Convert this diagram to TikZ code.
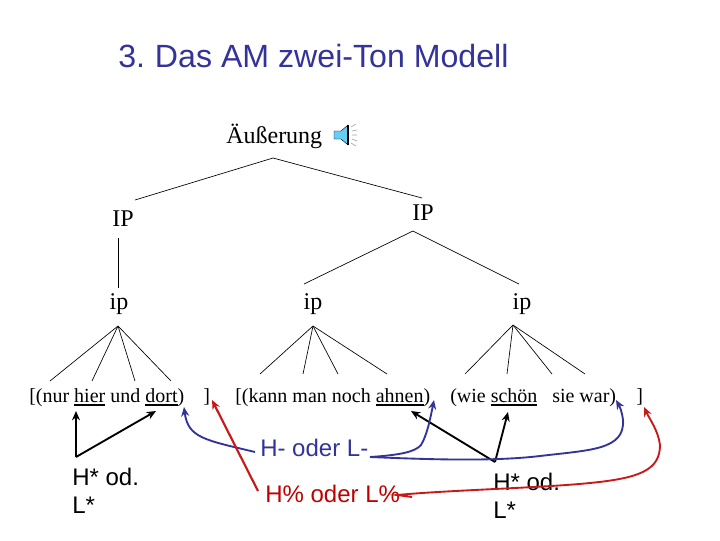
\documentclass[tikz,border=0pt]{standalone}
\usepackage{fontspec}
\setmainfont{Liberation Serif}
\setsansfont{Liberation Sans}
\usetikzlibrary{arrows.meta}
\definecolor{tblue}{HTML}{333399}
\definecolor{tred}{HTML}{C00000}
\definecolor{ared}{HTML}{C81818}
\newcommand\ulw[1]{\setbox0\hbox{#1}\rlap{\rule[-2.8pt]{\wd0}{1.6pt}}\box0\relax}
\tikzset{
  tree/.style={draw=black,line width=0.5pt},
  lab/.style={inner sep=0pt,anchor=center,font=\fontsize{18pt}{20pt}\selectfont},
  leaf/.style={inner sep=0pt,anchor=base west,font=\fontsize{15pt}{16pt}\selectfont},
  sans/.style={inner sep=0pt,anchor=base west,font=\sffamily\fontsize{18pt}{20pt}\selectfont},
  blk/.style={line width=1.4pt,-{Stealth[length=7pt,width=6pt]}},
  blu/.style={tblue,line width=1.4pt,-{Stealth[length=7pt,width=6pt]}},
  rd/.style={ared,line width=1.4pt,-{Stealth[length=7pt,width=6pt]}},
}
\begin{document}
\begin{tikzpicture}[x=0.75pt,y=-0.75pt]
\useasboundingbox (0,0) rectangle (720,540);
\fill[white] (0,0) rectangle (720,540);
\node[sans,anchor=base west,text=tblue,font=\sffamily\fontsize{24.1pt}{26pt}\selectfont] (title) at (118,67) {3.\kern-1.5pt{} Das AM zwei-Ton Modell};
\node[lab,anchor=base west] (root) at (226,143) {Äußerung};
% speaker
\fill[cyan!60!white,draw=black,line width=0.3pt] (334,131) -- (341,131) -- (348,125) -- (348,145) -- (341,139) -- (334,139) -- cycle;
\draw[black,line width=1pt] (348,125) -- (348,145);
\draw[gray!70,line width=0.5pt] (351,127) -- (356,124) (352,131) -- (357,130) (352,135) -- (357,135) (352,139) -- (357,141) (351,143) -- (356,146);

\coordinate (a0) at (273,158);
\coordinate (al) at (135,200);
\coordinate (ar) at (422,198);
\draw[tree] (al) -- (a0) -- (ar);
\node[lab] (ipL) at (123,219) {IP};
\node[lab] (ipR) at (423,213) {IP};
\coordinate (b0) at (118,238); \coordinate (b1) at (118,288);
\draw[tree] (b0) -- (b1);
\coordinate (c0) at (413,231);
\coordinate (c1) at (304,284);
\coordinate (c2) at (519,284);
\draw[tree] (c1) -- (c0) -- (c2);
\node[lab] (p1) at (119,304) {ip};
\node[lab] (p2) at (313,304) {ip};
\node[lab] (p3) at (522,304) {ip};

\coordinate (d0) at (118,326);
\foreach \x in {50,92,135,171} \draw[tree] (d0) -- (\x,381);
\coordinate (e0) at (313,326);
\foreach \x in {260,303,338,387} \draw[tree] (e0) -- (\x,374);
\coordinate (f0) at (513,325);
\foreach \x in {465,507,552,585} \draw[tree] (f0) -- (\x,374);

\node[leaf] (t1) at (29,402) {[(nur \ulw{hier} und \ulw{dort})};
\node[leaf] (t2) at (203,402) {]};
\node[leaf] (t3) at (235,402) {[(kann man noch \ulw{ahnen})};
\node[leaf] (t4) at (450,402) {(wie \ulw{schön}};
\node[leaf] (t5) at (552,402) {sie war)};
\node[leaf] (t6) at (636,402) {]};

\node[sans,text=tblue] (hl) at (260,456) {H- oder L-};
\node[sans,text=tred] (hp) at (265,502) {H\% oder L\%};
\node[sans] (h1) at (72,485) {H* od.};
\node[sans] (l1) at (72,513) {L*};
\node[sans] (h2) at (493,490) {H* od.};
\node[sans] (l2) at (493,518) {L*};

\coordinate (k1) at (76,457);
\draw[blk,line width=0.9pt] (k1) -- (76,411);
\draw[blk] (k1) -- (156,411);
\coordinate (k2) at (495,462);
\draw[blk] (k2) -- (411,411);
\draw[blk] (k2) -- (508,412);

\draw[blu] (255,452) .. controls (205,440) and (188,438) .. (184,407);
\draw[blu] (370,457) .. controls (400,455) and (415,452) .. (421,445) .. controls (427,435) and (430,420) .. (434,400);
\draw[blu] (370,457) .. controls (420,459) and (490,462) .. (540,456) .. controls (590,450) and (625,450) .. (623,420) .. controls (622,412) and (620,407) .. (616,400);
\draw[rd,line width=1.6pt] (258,491) -- (212,400);
\draw[rd] (412,497) -- (397,495) .. controls (450,490) and (540,488) .. (590,483) .. controls (640,478) and (660,470) .. (660,445) .. controls (658,430) and (650,420) .. (644,407);
\end{tikzpicture}
\end{document}
